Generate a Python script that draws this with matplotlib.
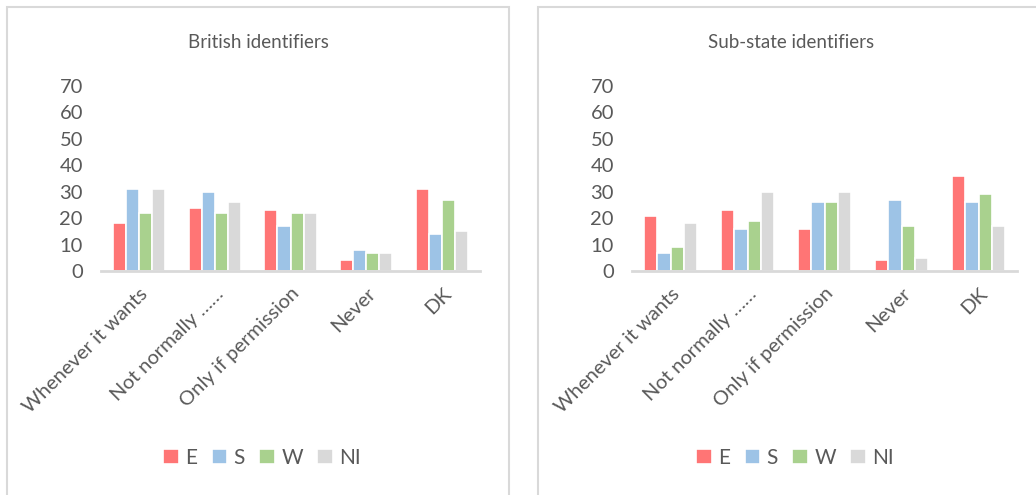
import numpy as np
import matplotlib
matplotlib.use("Agg")
import matplotlib.pyplot as plt
from matplotlib.patches import Rectangle

categories = ["Whenever it wants", "Not normally \u2026\u2026", "Only if permission", "Never", "DK"]
series = ["E", "S", "W", "NI"]
colors = ["#FF7575", "#9DC3E6", "#A9D18E", "#D9D9D9"]

british = {
    "E": [18, 24, 23, 4, 31],
    "S": [31, 30, 17, 8, 14],
    "W": [22, 22, 22, 7, 27],
    "NI": [31, 26, 22, 7, 15],
}
substate = {
    "E": [21, 23, 16, 4, 36],
    "S": [7, 16, 26, 27, 26],
    "W": [9, 19, 26, 17, 29],
    "NI": [18, 30, 30, 5, 17],
}

plt.rcParams["font.family"] = ["Lato", "DejaVu Sans"]
text_color = "#595959"

W, H = 1036, 495
fig = plt.figure(figsize=(W / 100, H / 100), dpi=100)


def px(x0, y0, x1, y1):
    return [x0 / W, 1 - y1 / H, (x1 - x0) / W, (y1 - y0) / H]


# panel frames
for x0, x1 in [(7, 509), (538, 1100)]:
    fig.patches.append(Rectangle((x0 / W, -0.1), (x1 - x0) / W, 1 - 7 / H + 0.1,
                                 transform=fig.transFigure, fill=False,
                                 edgecolor="#D9D9D9", linewidth=1.5))


def draw(rect, data, title, title_x, legend_x):
    ax = fig.add_axes(px(*rect))
    x = np.arange(len(categories))
    bw = 0.172
    for i, s in enumerate(series):
        ax.bar(x + (i - 1.5) * bw, data[s], width=bw, color=colors[i],
               edgecolor="white", linewidth=1.2, label=s)
    ax.set_ylim(0, 70)
    ax.set_xlim(-0.5, len(categories) - 0.5)
    ax.set_yticks(range(0, 71, 10))
    ax.set_xticks(x)
    ax.set_xticklabels(categories, rotation=45, ha="right", rotation_mode="anchor",
                       fontsize=14.5, color=text_color)
    for lab in ax.get_yticklabels():
        lab.set_fontsize(14.5)
        lab.set_color(text_color)
    ax.tick_params(axis="y", length=0, pad=13)
    ax.tick_params(axis="x", length=0, pad=10)
    for sp in ["top", "right", "left"]:
        ax.spines[sp].set_visible(False)
    ax.spines["bottom"].set_color("#D9D9D9")
    ax.spines["bottom"].set_linewidth(2)
    fig.text(title_x / W, 1 - 43 / H, title, ha="center", va="center",
             fontsize=13.5, color=text_color)
    leg = ax.legend(loc="center", bbox_to_anchor=(legend_x / W, 1 - 458 / H),
                    bbox_transform=fig.transFigure, ncol=4, frameon=False,
                    handlelength=0.75, handleheight=0.75,
                    handletextpad=0.3, columnspacing=0.7, prop={"size": 15})
    for t in leg.get_texts():
        t.set_color(text_color)
    return ax


draw((101, 86, 480, 271), british, "British identifiers", 258, 262)
draw((632, 86, 1017, 271), substate, "Sub-state identifiers", 791, 795)

fig.savefig("out.png", dpi=100)
